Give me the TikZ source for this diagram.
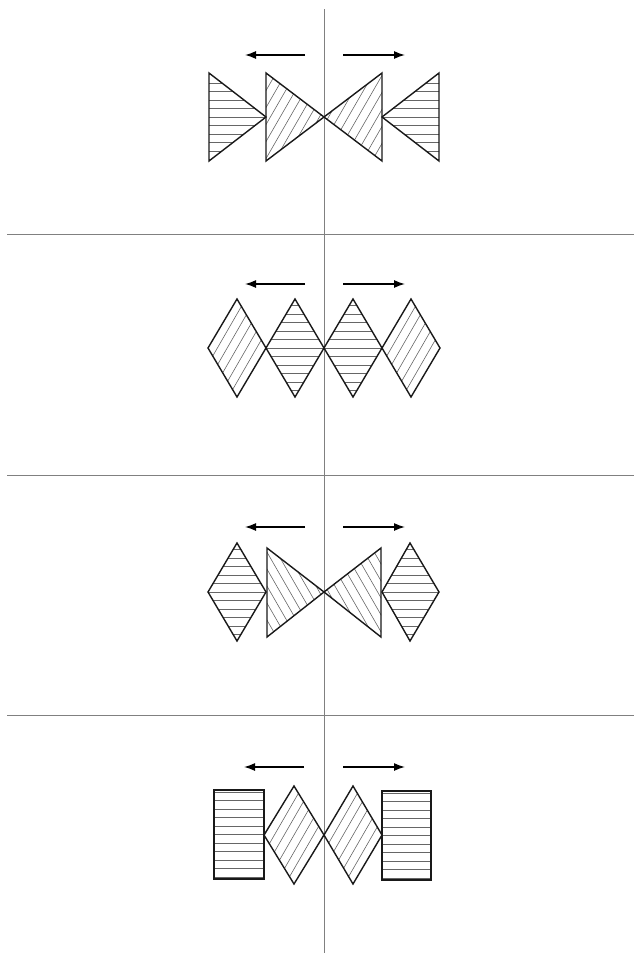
\documentclass[tikz,border=0pt]{standalone}
\usetikzlibrary{arrows.meta}
\tikzset{
  outline/.style={draw=black!90, line width=1.4pt, line join=miter},
  hatch/.style={draw=black!60, line width=0.6pt},
  divider/.style={draw=black!50, line width=1pt},
  motion/.style={draw=black, line width=1.4pt, -{Latex[length=11pt,width=8pt]}}
}
% #1 = closed path, #2 = centre x, #3 = centre y, #4 = angle of hatch lines
\newcommand\hatchedshape[4]{%
  \begin{scope}
    \clip #1;
    \begin{scope}[shift={(#2,#3)}, rotate=#4]
      \foreach \k in {-9,...,9} \draw[hatch] (-90,\k*8.5) -- (90,\k*8.5);
    \end{scope}
  \end{scope}
  \draw[outline] #1;
}
\begin{document}
\begin{tikzpicture}[x=1pt,y=-1pt]
\useasboundingbox (0,0) rectangle (634,953);
% dividers
\coordinate (vt) at (324,9); \coordinate (vb) at (324,953);
\draw[divider] (vt) -- (vb);
\foreach \yy/\nm in {234/h1,475/h2,715/h3}{
  \coordinate (\nm l) at (7,\yy); \coordinate (\nm r) at (634,\yy);
  \draw[divider] (\nm l) -- (\nm r);
}
% ---------- panel 1 ----------
\coordinate (a1l0) at (305,55); \coordinate (a1l1) at (245,55);
\coordinate (a1r0) at (343,55); \coordinate (a1r1) at (405,55);
\draw[motion] (a1l0) -- (a1l1);
\draw[motion] (a1r0) -- (a1r1);
\hatchedshape{(209,73) -- (266,117) -- (209,161) -- cycle}{230}{117}{0}
\hatchedshape{(266,73) -- (324,117) -- (266,161) -- cycle}{290}{117}{60}
\hatchedshape{(382,73) -- (324,117) -- (382,161) -- cycle}{358}{117}{60}
\hatchedshape{(439,73) -- (382,117) -- (439,161) -- cycle}{418}{117}{0}
% ---------- panel 2 ----------
\coordinate (a2l0) at (305,284); \coordinate (a2l1) at (245,284);
\coordinate (a2r0) at (343,284); \coordinate (a2r1) at (405,284);
\draw[motion] (a2l0) -- (a2l1);
\draw[motion] (a2r0) -- (a2r1);
\foreach \cx/\ang in {237/60,295/0,353/0,411/60}{
  \hatchedshape{(\cx-29,348) -- (\cx,299) -- (\cx+29,348) -- (\cx,397) -- cycle}{\cx}{348}{\ang}
}
% ---------- panel 3 ----------
\coordinate (a3l0) at (305,527); \coordinate (a3l1) at (245,527);
\coordinate (a3r0) at (343,527); \coordinate (a3r1) at (405,527);
\draw[motion] (a3l0) -- (a3l1);
\draw[motion] (a3r0) -- (a3r1);
\hatchedshape{(208,592) -- (237,543) -- (266,592) -- (237,641) -- cycle}{237}{592}{0}
\hatchedshape{(267,548) -- (324,592) -- (267,637) -- cycle}{290}{592}{-60}
\hatchedshape{(381,548) -- (324,592) -- (381,637) -- cycle}{358}{592}{-60}
\hatchedshape{(382,592) -- (410,543) -- (439,592) -- (410,641) -- cycle}{410}{592}{0}
% ---------- panel 4 ----------
\coordinate (a4l0) at (304,767); \coordinate (a4l1) at (244,767);
\coordinate (a4r0) at (343,767); \coordinate (a4r1) at (405,767);
\draw[motion] (a4l0) -- (a4l1);
\draw[motion] (a4r0) -- (a4r1);
\hatchedshape{(214,790) rectangle (264,879)}{239}{834.5}{0}
\hatchedshape{(264,835) -- (294,786) -- (324,835) -- (294,884) -- cycle}{294}{835}{60}
\hatchedshape{(324,835) -- (353,786) -- (382,835) -- (353,884) -- cycle}{353}{835}{60}
\hatchedshape{(382,791) rectangle (431,880)}{406.5}{835.5}{0}
\end{tikzpicture}
\end{document}
